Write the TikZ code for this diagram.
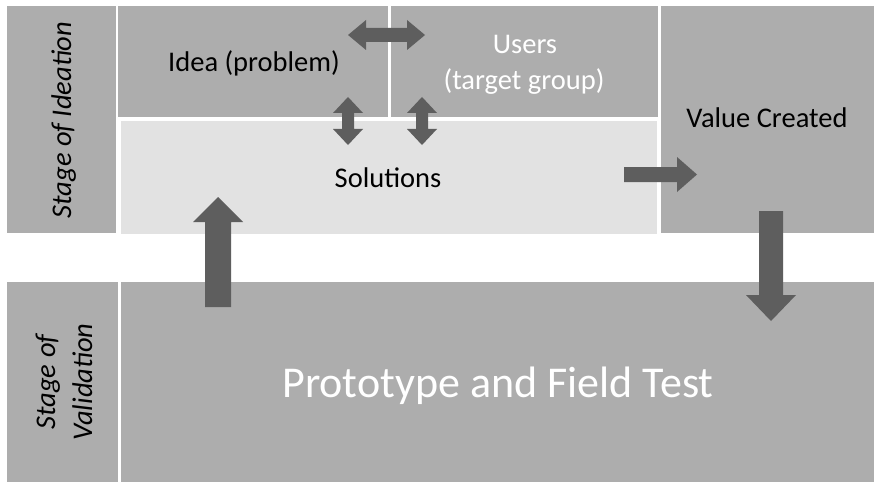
\documentclass[tikz,border=0pt]{standalone}
\usepackage{fontspec}
\setmainfont{Carlito}
\begin{document}
\begin{tikzpicture}[x=1pt,y=-1pt,
  panel/.style={fill=panelgray, draw=none, inner sep=0pt, anchor=north west},
  lightpanel/.style={fill=solgray, draw=none, inner sep=0pt, anchor=north west},
  blockarrow/.style={fill=arrowgray, draw=none},
  lbl/.style={inner sep=0pt, font=\fontsize{28.5}{34}\selectfont},
  stagelbl/.style={inner sep=0pt, rotate=90, anchor=base, font=\fontsize{28.5}{34}\selectfont\itshape}]
\definecolor{panelgray}{HTML}{ADADAD}
\definecolor{solgray}{HTML}{E2E2E2}
\definecolor{arrowgray}{HTML}{5E5E5E}
\useasboundingbox[fill=white] (0,0) rectangle (875,484);

% panels of the ideation stage
\node[panel, minimum width=109pt, minimum height=227pt] (ideation) at (7,6) {};
\node[panel, minimum width=270pt, minimum height=111pt] (idea) at (118,6) {};
\node[panel, minimum width=267pt, minimum height=111pt] (users) at (391,6) {};
\node[panel, minimum width=213pt, minimum height=227pt] (value) at (661,6) {};
\node[lightpanel, minimum width=536pt, minimum height=113pt] (solutions) at (121,121) {};

% panels of the validation stage
\node[panel, minimum width=111pt, minimum height=200pt] (validation) at (7,282) {};
\node[panel, minimum width=753pt, minimum height=200pt] (proto) at (121,282) {};

% labels
\node[stagelbl] (ideationtxt) at (71,120) {Stage of Ideation};
\node[stagelbl] (valtxt1) at (55,382) {Stage of};
\node[stagelbl] (valtxt2) at (92,382) {Validation};
\node[lbl, anchor=base] (ideatxt) at (254,72) {Idea (problem)};
\node[lbl, anchor=base, text=white] (userstxt1) at (525,54) {Users};
\node[lbl, anchor=base, text=white] (userstxt2) at (524,90) {(target group)};
\node[lbl, anchor=base] (valuetxt) at (767,128) {Value Created};
\node[lbl, anchor=base] (soltxt) at (388,187) {Solutions};
\node[inner sep=0pt, anchor=base, text=white, font=\fontsize{44}{50}\selectfont] (prototxt) at (498,397) {Prototype and Field Test};

% idea <-> users
\fill[blockarrow] (348,35) -- (366,20) -- (366,28) -- (407,28) -- (407,20) -- (425,35)
  -- (407,50) -- (407,42) -- (366,42) -- (366,50) -- cycle;
% idea <-> solutions
\fill[blockarrow] (348,97) -- (363,113) -- (354,113) -- (354,129) -- (363,129) -- (348,145)
  -- (333,129) -- (342,129) -- (342,113) -- (333,113) -- cycle;
% users <-> solutions
\fill[blockarrow] (422,97) -- (437,113) -- (428,113) -- (428,129) -- (437,129) -- (422,145)
  -- (407,129) -- (416,129) -- (416,113) -- (407,113) -- cycle;
% solutions -> value created
\fill[blockarrow] (624,167) -- (677,167) -- (677,157) -- (697,174.5) -- (677,192) -- (677,182)
  -- (624,182) -- cycle;
% value created -> prototype
\fill[blockarrow] (759,211) -- (783,211) -- (783,295) -- (796,295) -- (771,321) -- (746,295)
  -- (759,295) -- cycle;
% prototype -> solutions
\fill[blockarrow] (205,307) -- (205,222) -- (193,222) -- (218,197) -- (243,222) -- (231,222)
  -- (231,307) -- cycle;
\end{tikzpicture}
\end{document}
